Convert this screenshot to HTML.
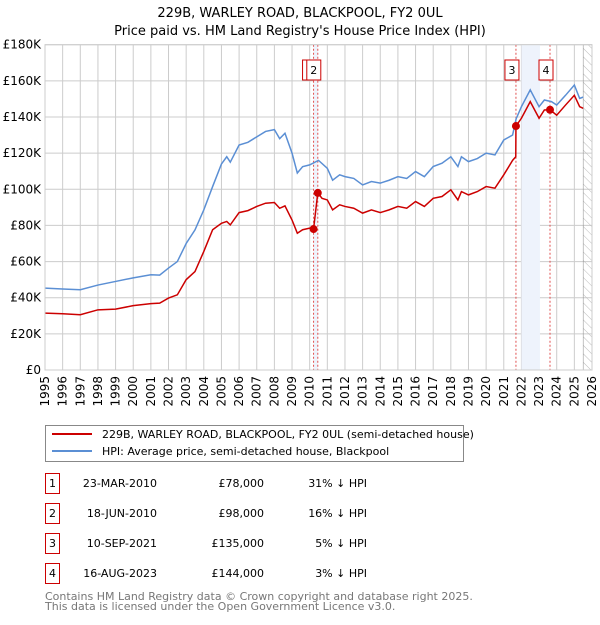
<!DOCTYPE html>
<html><head><meta charset="utf-8"><style>
body{margin:0;background:#fff;font-family:"Liberation Sans","DejaVu Sans",sans-serif;}
svg text{font-family:"DejaVu Sans","Liberation Sans",sans-serif;}
</style></head><body>
<svg id="chart" width="600" height="620" viewBox="0 0 600 620" xmlns="http://www.w3.org/2000/svg">
<defs><pattern id="hatch" width="6" height="6" patternUnits="userSpaceOnUse" patternTransform="rotate(-45)"><line x1="0" y1="0" x2="0" y2="6" stroke="#bbb" stroke-width="1"/></pattern></defs>
<text x="300" y="17" text-anchor="middle" font-size="13">229B, WARLEY ROAD, BLACKPOOL, FY2 0UL</text>
<text x="300" y="35" text-anchor="middle" font-size="13">Price paid vs. HM Land Registry's House Price Index (HPI)</text>
<g id="grid"></g><g id="bands"></g><g id="series"></g><g id="axes"></g>
<g>
<rect x="45.5" y="425.5" width="418" height="36" fill="#fff" stroke="#888"/>
<line x1="52" y1="434" x2="92" y2="434" stroke="#cc0000" stroke-width="2"/>
<text x="102" y="438" font-size="11">229B, WARLEY ROAD, BLACKPOOL, FY2 0UL (semi-detached house)</text>
<line x1="52" y1="451" x2="92" y2="451" stroke="#5b8fd4" stroke-width="2"/>
<text x="102" y="455" font-size="11">HPI: Average price, semi-detached house, Blackpool</text>
</g>
<g id="table" font-size="11"></g>
<text x="45" y="600" font-size="11" fill="#777">Contains HM Land Registry data © Crown copyright and database right 2025.</text>
<text x="45" y="610" font-size="11" fill="#777">This data is licensed under the Open Government Licence v3.0.</text>
</svg>
<script>
const hpiYears=[1995,1996,1997,1998,1999,2000,2001,2001.5,2002,2002.5,2003,2003.5,2004,2004.5,2005,2005.3,2005.5,2006,2006.5,2007,2007.5,2008,2008.3,2008.6,2009,2009.3,2009.6,2010,2010.5,2011,2011.3,2011.7,2012,2012.5,2013,2013.5,2014,2014.5,2015,2015.5,2016,2016.5,2017,2017.5,2018,2018.4,2018.6,2019,2019.5,2020,2020.5,2021,2021.5,2021.7,2022,2022.5,2023,2023.3,2023.7,2024,2024.5,2025,2025.3,2025.5];
const hpiValues=[45.3,44.8,44.4,47,49,51,52.7,52.5,56.4,60,70,77.5,88.6,101.5,114,118,115,124.5,126,129,132,133,128,131,120,109,112.5,113.5,116,111.6,105,108,107,106,102.4,104.3,103.4,105,107,106,109.8,107,112.6,114.4,118,112.6,118,115.3,117,120,119,127.3,130,139,145.7,155,145.7,149.4,148.5,146.6,152,157.7,150.3,151];
const priceYears=[1995,1996,1997,1998,1999,2000,2001,2001.5,2002,2002.5,2003,2003.5,2004,2004.5,2005,2005.3,2005.5,2006,2006.5,2007,2007.5,2008,2008.3,2008.6,2009,2009.3,2009.6,2010,2010.22,2010.46,2010.7,2011,2011.3,2011.7,2012,2012.5,2013,2013.5,2014,2014.5,2015,2015.5,2016,2016.5,2017,2017.5,2018,2018.4,2018.6,2019,2019.5,2020,2020.5,2021,2021.5,2021.68,2021.69,2022,2022.5,2023,2023.3,2023.62,2024,2024.5,2025,2025.3,2025.5];
const priceValues=[31.5,31.1,30.6,33.3,33.7,35.6,36.7,37,39.8,41.6,50,54.5,65.6,77.6,81.2,82.2,80.3,87.1,88.2,90.5,92.3,92.7,89.5,90.8,83,75.7,77.6,78.5,78,98,95,94.1,88.6,91.4,90.5,89.5,86.8,88.6,87.1,88.6,90.5,89.5,93.2,90.5,95,96,99.7,94.1,98.7,96.9,98.7,101.5,100.6,108,116,118,135,139.3,148.5,139.3,143.9,144,141,146.6,152,145.7,144.8];
const saleLabels=["1","2","3","4"];
const saleYears=[2010.22,2010.46,2021.69,2023.62];
const saleValues=[78,98,135,144];
const saleDates=["23-MAR-2010","18-JUN-2010","10-SEP-2021","16-AUG-2023"];
const salePrices=["£78,000","£98,000","£135,000","£144,000"];
const salePct=["31% ↓ HPI","16% ↓ HPI","5% ↓ HPI","3% ↓ HPI"];
const yTicks=[0,20,40,60,80,100,120,140,160,180];
const yTickLabels=["£0","£20K","£40K","£60K","£80K","£100K","£120K","£140K","£160K","£180K"];
const xTicks=[1995,1996,1997,1998,1999,2000,2001,2002,2003,2004,2005,2006,2007,2008,2009,2010,2011,2012,2013,2014,2015,2016,2017,2018,2019,2020,2021,2022,2023,2024,2025,2026];

const NS="http://www.w3.org/2000/svg";
const L=45,R=592,T=44.7,B=370;
const sx=y=>L+(y-1995)/(2026-1995)*(R-L);
const sy=v=>B-v/180*(B-T);
function mk(tag,attrs,parent,text){const e=document.createElementNS(NS,tag);for(const k in attrs)e.setAttribute(k,attrs[k]);if(text!==undefined)e.textContent=text;parent.appendChild(e);return e;}
const grid=document.getElementById('grid'),bands=document.getElementById('bands'),series=document.getElementById('series'),axes=document.getElementById('axes'),table=document.getElementById('table');
xTicks.forEach(y=>{const l=mk('line',{x1:sx(y),x2:sx(y),y1:T,y2:B,stroke:'#ccc'},grid);


const t=mk('text',{x:0,y:0,transform:`translate(${sx(y)+4},${B+6}) rotate(-90)`,'text-anchor':'end','font-size':12},axes,String(y));

});
yTicks.forEach((v,i)=>{const l=mk('line',{x1:L,x2:R,y1:sy(v),y2:sy(v),stroke:'#ccc'},grid);


const t=mk('text',{x:L-4,y:sy(v)+4,'text-anchor':'end','font-size':12},axes,yTickLabels[i]);

});
// bands
const b1=mk('rect',{x:sx(saleYears[0]),y:T,width:sx(saleYears[1])-sx(saleYears[0]),height:B-T,fill:'#eef3fc'},bands);


const b2=mk('rect',{x:sx(2022),y:T,width:sx(2023.05)-sx(2022),height:B-T,fill:'#eef3fc'},bands);


const h=mk('rect',{x:sx(2025.5),y:T,width:R-sx(2025.5),height:B-T,fill:'url(#hatch)',stroke:'#888','stroke-width':0.5},bands);


saleYears.forEach(y=>{const l=mk('line',{x1:sx(y),x2:sx(y),y1:T,y2:B,stroke:'#e05050','stroke-dasharray':'2,2'},bands);

});
const hp=mk('polyline',{points:hpiYears.map((y,i)=>sx(y)+','+sy(hpiValues[i])).join(' '),fill:'none',stroke:'#5b8fd4','stroke-width':1.5},series);


const pp=mk('polyline',{points:priceYears.map((y,i)=>sx(y)+','+sy(priceValues[i])).join(' '),fill:'none',stroke:'#cc0000','stroke-width':1.5},series);


saleYears.forEach((y,i)=>{const c=mk('circle',{cx:sx(y),cy:sy(saleValues[i]),r:4,fill:'#cc0000'},series);


const g=mk('g',{},series);


const cx=sx(y)-4;
mk('rect',{x:cx-7,y:60,width:14,height:20,fill:'#fff',stroke:'#cc0000'},g);
mk('text',{x:cx,y:74,'text-anchor':'middle','font-size':11},g,saleLabels[i]);});
mk('rect',{x:L,y:T,width:R-L,height:B-T,fill:'none',stroke:'#ccc'},axes);
// table
saleLabels.forEach((s,i)=>{const y=483+i*30;
const g=mk('g',{},table);


mk('rect',{x:45.5,y:y-9.5,width:14,height:20,fill:'#fff',stroke:'#cc0000'},g);
mk('text',{x:52.5,y:y+4,'text-anchor':'middle'},g,s);
mk('text',{x:157,y:y+4,'text-anchor':'end'},g,saleDates[i]);
mk('text',{x:264,y:y+4,'text-anchor':'end'},g,salePrices[i]);
mk('text',{x:367,y:y+4,'text-anchor':'end'},g,salePct[i]);});
</script>
</body></html>
